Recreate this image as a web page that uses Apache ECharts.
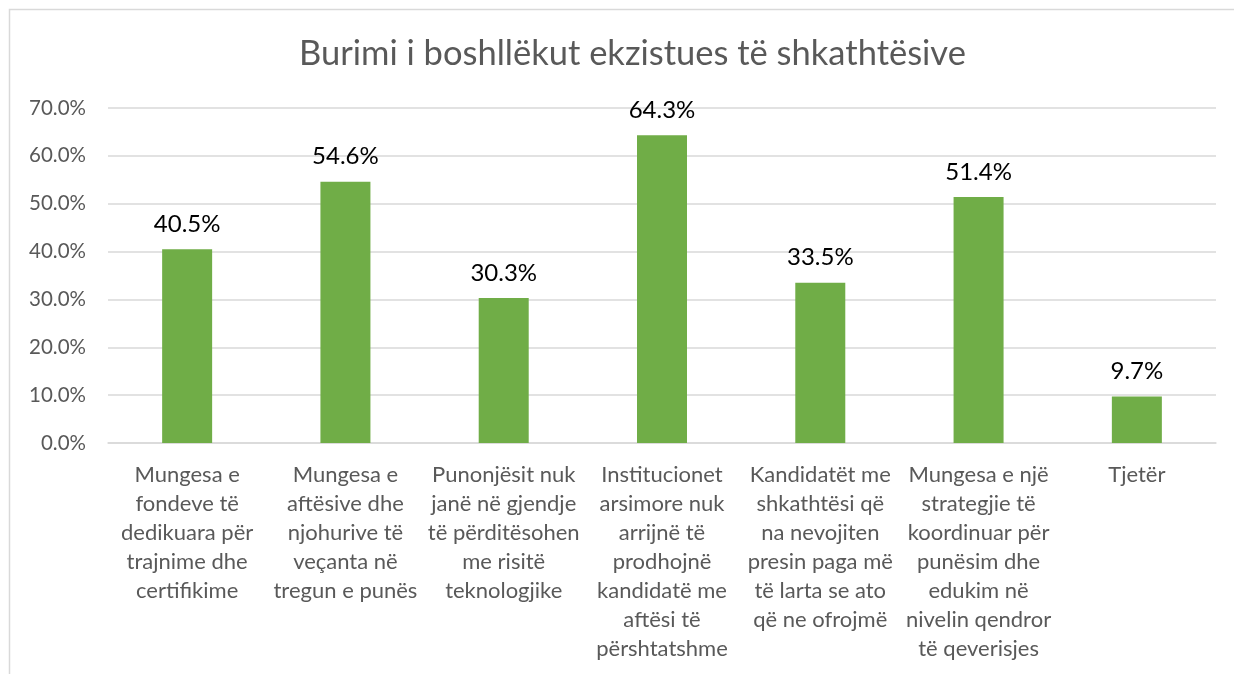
<!DOCTYPE html>
<html>
<head>
<meta charset="utf-8">
<script src="https://cdn.jsdelivr.net/npm/echarts@6/dist/echarts.min.js"></script>
<style>
  html, body { margin: 0; padding: 0; background: #fff; }
  #chart { width: 1234px; height: 674px; }
</style>
</head>
<body>
<div id="chart"></div>
<script>
// Burimi i boshllëkut - kategoritë dhe vlerat (%)
const categories = [
  'Mungesa e\nfondeve të\ndedikuara për\ntrajnime dhe\ncertifikime',
  'Mungesa e\naftësive dhe\nnjohurive të\nveçanta në\ntregun e punës',
  'Punonjësit nuk\njanë në gjendje\ntë përditësohen\nme risitë\nteknologjike',
  'Institucionet\narsimore nuk\narrijnë të\nprodhojnë\nkandidatë me\naftësi të\npërshtatshme',
  'Kandidatët me\nshkathtësi që\nna nevojiten\npresin paga më\ntë larta se ato\nqë ne ofrojmë',
  'Mungesa e një\nstrategjie të\nkoordinuar për\npunësim dhe\nedukim në\nnivelin qendror\ntë qeverisjes',
  'Tjetër'
]
const values = [40.5, 54.6, 30.3, 64.3, 33.5, 51.4, 9.7]
const yTicks = { min: 0, max: 70, interval: 10 }

const chart = echarts.init(document.getElementById('chart'))
const fontFamily = 'Lato, "Open Sans", sans-serif'

chart.setOption({
  animation: false,
  textStyle: { fontFamily: fontFamily },
  title: {
    text: 'Burimi i boshllëkut ekzistues të shkathtësive',
    left: 294,
    top: 31,
    textStyle: {
      fontFamily: fontFamily,
      fontWeight: 'normal',
      fontSize: 34.5,
      color: '#595959'
    }
  },
  graphic: [{
    type: 'rect',
    shape: { x: 9.5, y: 9.5, width: 1240, height: 700 },
    style: { fill: 'none', stroke: '#d9d9d9', lineWidth: 1.5 },
    silent: true
  }],
  grid: {
    left: 108,
    right: 18,
    top: 108,
    bottom: 231
  },
  xAxis: {
    type: 'category',
    data: categories,
    axisTick: { show: false },
    axisLine: { lineStyle: { color: '#d9d9d9', width: 1.5 } },
    axisLabel: {
      interval: 0,
      margin: 17,
      fontSize: 22,
      lineHeight: 29,
      color: '#595959',
      align: 'center'
    }
  },
  yAxis: {
    type: 'value',
    min: yTicks.min,
    max: yTicks.max,
    interval: yTicks.interval,
    axisLine: { show: false },
    axisTick: { show: false },
    splitLine: { lineStyle: { color: '#d9d9d9', width: 1.5 } },
    axisLabel: {
      margin: 22,
      fontSize: 20.5,
      color: '#595959',
      formatter: function (v) { return v.toFixed(1) + '%' }
    }
  },
  series: [{
    type: 'bar',
    data: values,
    barWidth: 50,
    itemStyle: { color: '#70ad47' },
    label: {
      show: true,
      position: 'top',
      distance: 13,
      fontSize: 24,
      color: '#000',
      formatter: function (p) { return p.value.toFixed(1) + '%' }
    }
  }]
})
</script>
</body>
</html>
